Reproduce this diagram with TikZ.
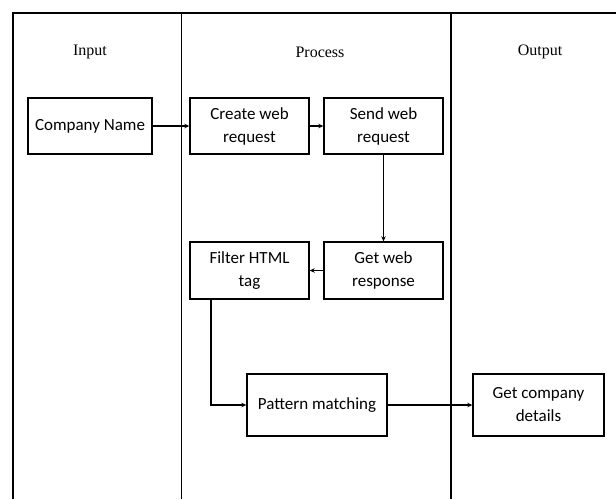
\documentclass[tikz,border=0pt]{standalone}
\usepackage{fontspec}
\setmainfont{Liberation Serif}
\newfontfamily\boxfont{Carlito}
\usepackage{tikz}
\usetikzlibrary{arrows.meta,positioning,calc}
\tikzset{
  box/.style={draw=black, align=center, minimum width=119pt, minimum height=56pt,
              font=\boxfont\fontsize{17}{23}\selectfont, line width=1.4pt, inner sep=2pt},
  wide/.style={box, minimum width=140pt, minimum height=62pt},
  arr/.style={-{Stealth[length=5pt, width=4.5pt]}, draw=black, line width=1.4pt},
  lane/.style={draw=black, line width=1.4pt},
  head/.style={font=\fontsize{16}{19}\selectfont},
}

\begin{document}
\begin{tikzpicture}[x=1pt, y=-1pt]
  \useasboundingbox (0,0) rectangle (616,499);
  % swim lanes
  \draw[lane] (13,499) -- (13,13) -- (616,13);
  \draw[lane] (181.5,13) -- (181.5,499);
  \draw[lane] (451,13) -- (451,499);
  \node[head] (hin) at (90,52) {Input};
  \node[head] (hproc) at (320,52) {Process};
  \node[head] (hout) at (540,52) {Output};

  \node[box, minimum width=124pt] (name) at (90,126) {Company Name};
  \node[box] (create) at (249.5,126) {Create web\\request};
  \node[box] (send) at (383.5,126) {Send web\\request};
  \node[box, minimum height=57pt] (resp) at (383.5,270.5) {Get web\\response};
  \node[box, minimum height=57pt] (filter) at (249.5,270.5) {Filter HTML\\tag};
  \node[wide] (match) at (317,405) {Pattern matching};
  \node[wide, minimum width=131pt] (details) at (538.5,405) {Get company\\details};
  \coordinate (fdown) at ($(filter.south west)!0.18!(filter.south east)$);

  \draw[arr] (name) -- (create);
  \draw[arr] (create) -- (send);
  \draw[arr] (send) -- (resp);
  \draw[arr] (resp) -- (filter);
  \draw[arr] (fdown) |- (match.west);
  \draw[arr] (match) -- (details);
\end{tikzpicture}
\end{document}
